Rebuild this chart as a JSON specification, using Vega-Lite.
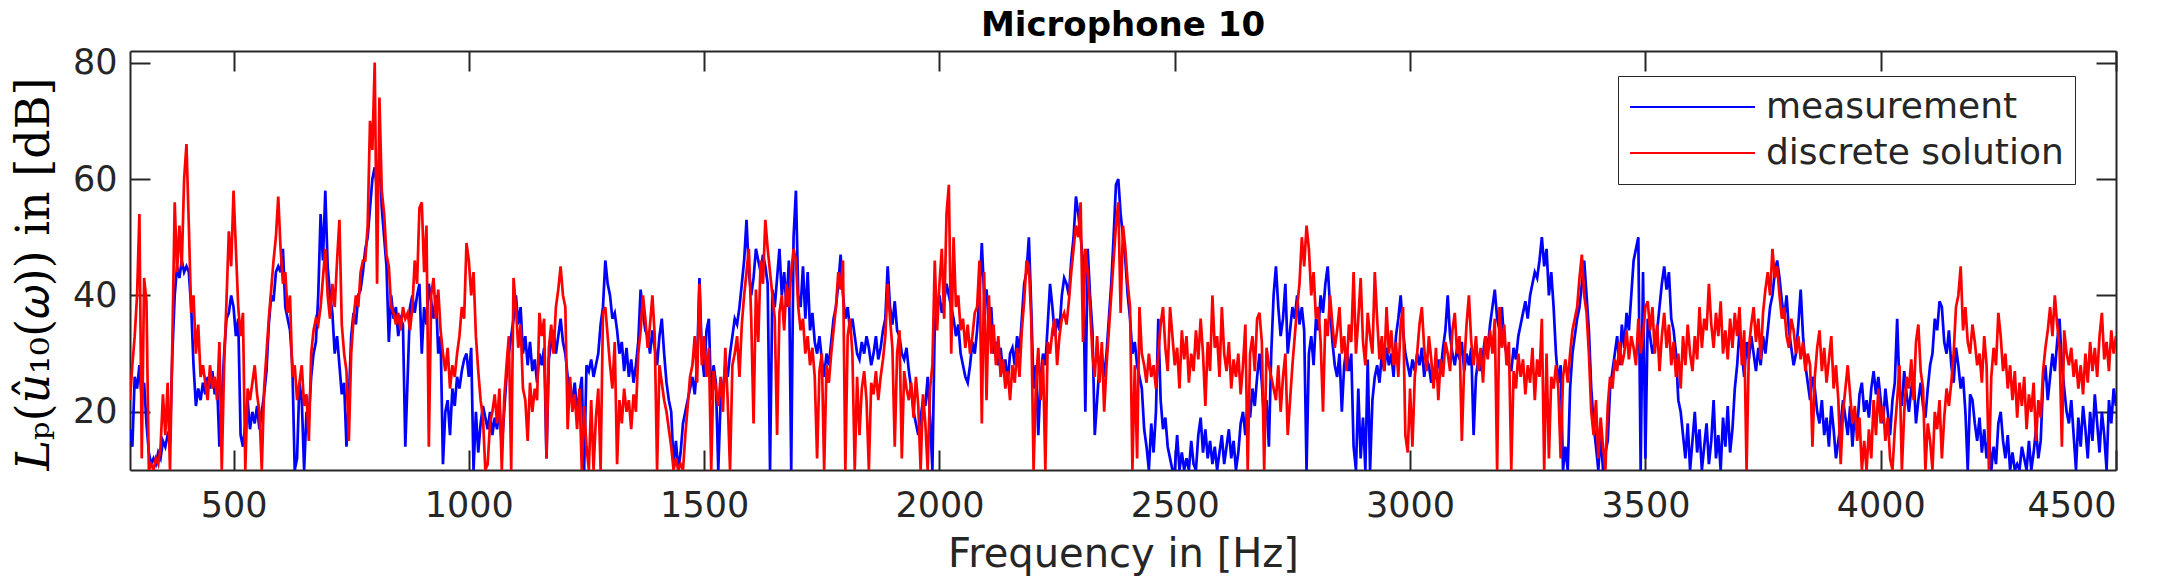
{
  "$schema": "https://vega.github.io/schema/vega-lite/v6.json",
  "width": 1986,
  "height": 419,
  "autosize": {"type": "none"},
  "padding": {"left": 130, "top": 51, "right": 47, "bottom": 110},
  "background": "white",
  "title": {"text": "Microphone 10", "font": "DejaVu Sans", "fontSize": 34, "fontWeight": "bold", "color": "#000000", "anchor": "middle", "frame": "group", "baseline": "alphabetic", "offset": 13, "dy": 37},
  "data": {"values": [
{"f":280,"m":17,"d":22},{"f":285,"m":14,"d":28},{"f":290,"m":26,"d":33},{"f":295,"m":24,"d":40},{"f":300,"m":28,"d":54},{"f":305,"m":22,"d":12},{"f":310,"m":25,"d":43},{"f":315,"m":18,"d":39},{"f":320,"m":13,"d":10},{"f":325,"m":11,"d":11},{"f":330,"m":12,"d":10},{"f":335,"m":11,"d":12},{"f":340,"m":13,"d":11},{"f":345,"m":12,"d":14},{"f":350,"m":15,"d":23},{"f":355,"m":14,"d":16},{"f":360,"m":16,"d":25},{"f":365,"m":15,"d":10},{"f":370,"m":30,"d":32},{"f":375,"m":40,"d":56},{"f":380,"m":45,"d":44},{"f":385,"m":43,"d":52},{"f":390,"m":46,"d":45},{"f":395,"m":44,"d":60},{"f":400,"m":45,"d":66},{"f":405,"m":44,"d":52},{"f":410,"m":38,"d":37},{"f":415,"m":28,"d":40},{"f":420,"m":21,"d":30},{"f":425,"m":24,"d":35},{"f":430,"m":22,"d":26},{"f":435,"m":25,"d":28},{"f":440,"m":23,"d":25},{"f":445,"m":26,"d":22},{"f":450,"m":24,"d":28},{"f":455,"m":27,"d":24},{"f":460,"m":23,"d":26},{"f":465,"m":25,"d":22},{"f":470,"m":14,"d":32},{"f":475,"m":22,"d":10},{"f":480,"m":30,"d":28},{"f":485,"m":36,"d":39},{"f":490,"m":37,"d":51},{"f":495,"m":40,"d":45},{"f":500,"m":38,"d":58},{"f":505,"m":33,"d":48},{"f":510,"m":36,"d":38},{"f":515,"m":16,"d":33},{"f":520,"m":14,"d":37},{"f":525,"m":18,"d":10},{"f":530,"m":22,"d":24},{"f":535,"m":17,"d":22},{"f":540,"m":20,"d":25},{"f":545,"m":18,"d":28},{"f":550,"m":21,"d":23},{"f":555,"m":17,"d":20},{"f":560,"m":20,"d":10},{"f":565,"m":23,"d":24},{"f":570,"m":27,"d":30},{"f":575,"m":35,"d":36},{"f":580,"m":40,"d":41},{"f":585,"m":39,"d":46},{"f":590,"m":44,"d":50},{"f":595,"m":45,"d":57},{"f":600,"m":44,"d":48},{"f":605,"m":48,"d":42},{"f":610,"m":38,"d":44},{"f":615,"m":36,"d":37},{"f":620,"m":34,"d":40},{"f":625,"m":28,"d":26},{"f":630,"m":10,"d":28},{"f":635,"m":12,"d":22},{"f":640,"m":25,"d":25},{"f":645,"m":22,"d":28},{"f":650,"m":10,"d":21},{"f":655,"m":20,"d":23},{"f":660,"m":19,"d":15},{"f":665,"m":26,"d":30},{"f":670,"m":30,"d":34},{"f":675,"m":32,"d":36},{"f":680,"m":40,"d":35},{"f":685,"m":54,"d":38},{"f":690,"m":46,"d":43},{"f":695,"m":58,"d":48},{"f":700,"m":45,"d":40},{"f":705,"m":40,"d":36},{"f":710,"m":37,"d":42},{"f":715,"m":30,"d":38},{"f":720,"m":33,"d":46},{"f":725,"m":28,"d":53},{"f":730,"m":23,"d":35},{"f":735,"m":25,"d":30},{"f":740,"m":14,"d":27},{"f":745,"m":22,"d":15},{"f":750,"m":33,"d":30},{"f":755,"m":37,"d":36},{"f":760,"m":35,"d":40},{"f":765,"m":40,"d":38},{"f":770,"m":41,"d":44},{"f":775,"m":44,"d":46},{"f":780,"m":48,"d":46},{"f":785,"m":50,"d":52},{"f":790,"m":55,"d":70},{"f":795,"m":60,"d":65},{"f":800,"m":62,"d":80},{"f":805,"m":58,"d":42},{"f":810,"m":64,"d":74},{"f":815,"m":55,"d":58},{"f":820,"m":50,"d":54},{"f":825,"m":45,"d":47},{"f":830,"m":32,"d":45},{"f":835,"m":40,"d":38},{"f":840,"m":36,"d":37},{"f":845,"m":38,"d":35},{"f":850,"m":33,"d":37},{"f":855,"m":36,"d":34},{"f":860,"m":35,"d":38},{"f":865,"m":14,"d":36},{"f":870,"m":26,"d":37},{"f":875,"m":38,"d":34},
{"f":880,"m":40,"d":38},{"f":885,"m":37,"d":46},{"f":890,"m":40,"d":42},{"f":895,"m":42,"d":55},{"f":900,"m":30,"d":56},{"f":905,"m":38,"d":44},{"f":910,"m":35,"d":52},{"f":915,"m":42,"d":14},{"f":920,"m":39,"d":40},{"f":925,"m":36,"d":43},{"f":930,"m":40,"d":36},{"f":935,"m":30,"d":41},{"f":940,"m":33,"d":34},{"f":945,"m":11,"d":30},{"f":950,"m":20,"d":27},{"f":955,"m":22,"d":31},{"f":960,"m":16,"d":24},{"f":965,"m":24,"d":28},{"f":970,"m":21,"d":26},{"f":975,"m":26,"d":30},{"f":980,"m":24,"d":33},{"f":985,"m":27,"d":38},{"f":990,"m":29,"d":36},{"f":995,"m":30,"d":49},{"f":1000,"m":26,"d":46},{"f":1005,"m":31,"d":40},{"f":1010,"m":10,"d":44},{"f":1015,"m":20,"d":33},{"f":1020,"m":13,"d":27},{"f":1025,"m":18,"d":22},{"f":1030,"m":21,"d":19},{"f":1035,"m":19,"d":10},{"f":1040,"m":17,"d":11},{"f":1045,"m":20,"d":18},{"f":1050,"m":16,"d":20},{"f":1055,"m":19,"d":23},{"f":1060,"m":17,"d":18},{"f":1065,"m":21,"d":24},{"f":1070,"m":14,"d":10},{"f":1075,"m":20,"d":22},{"f":1080,"m":26,"d":28},{"f":1085,"m":30,"d":33},{"f":1090,"m":33,"d":10},{"f":1095,"m":36,"d":43},{"f":1100,"m":40,"d":38},{"f":1105,"m":35,"d":31},{"f":1110,"m":38,"d":35},{"f":1115,"m":30,"d":24},{"f":1120,"m":33,"d":22},{"f":1125,"m":28,"d":15},{"f":1130,"m":32,"d":25},{"f":1135,"m":27,"d":20},{"f":1140,"m":29,"d":24},{"f":1145,"m":25,"d":22},{"f":1150,"m":30,"d":37},{"f":1155,"m":28,"d":33},{"f":1160,"m":31,"d":36},{"f":1165,"m":12,"d":12},{"f":1170,"m":29,"d":31},{"f":1175,"m":32,"d":35},{"f":1180,"m":34,"d":30},{"f":1185,"m":30,"d":38},{"f":1190,"m":33,"d":41},{"f":1195,"m":36,"d":45},{"f":1200,"m":32,"d":40},{"f":1205,"m":30,"d":38},{"f":1210,"m":26,"d":17},{"f":1215,"m":24,"d":26},{"f":1220,"m":22,"d":20},{"f":1225,"m":25,"d":23},{"f":1230,"m":20,"d":17},{"f":1235,"m":23,"d":24},{"f":1240,"m":26,"d":10},{"f":1245,"m":10,"d":21},{"f":1250,"m":28,"d":14},{"f":1255,"m":27,"d":10},{"f":1260,"m":29,"d":22},{"f":1265,"m":26,"d":10},{"f":1270,"m":28,"d":19},{"f":1275,"m":30,"d":24},{"f":1280,"m":35,"d":10},{"f":1285,"m":38,"d":37},{"f":1290,"m":46,"d":38},{"f":1295,"m":42,"d":33},{"f":1300,"m":40,"d":28},{"f":1305,"m":36,"d":24},{"f":1310,"m":37,"d":32},{"f":1315,"m":34,"d":11},{"f":1320,"m":30,"d":22},{"f":1325,"m":32,"d":18},{"f":1330,"m":27,"d":24},{"f":1335,"m":31,"d":20},{"f":1340,"m":26,"d":22},{"f":1345,"m":29,"d":17},{"f":1350,"m":25,"d":23},{"f":1355,"m":28,"d":20},{"f":1360,"m":32,"d":30},{"f":1365,"m":41,"d":34},{"f":1370,"m":37,"d":40},{"f":1375,"m":34,"d":36},{"f":1380,"m":33,"d":31},{"f":1385,"m":30,"d":35},{"f":1390,"m":34,"d":40},{"f":1395,"m":31,"d":33},{"f":1400,"m":28,"d":10},{"f":1405,"m":33,"d":28},{"f":1410,"m":36,"d":25},{"f":1415,"m":30,"d":22},{"f":1420,"m":25,"d":20},{"f":1425,"m":22,"d":17},{"f":1430,"m":20,"d":14},{"f":1435,"m":11,"d":10},{"f":1440,"m":15,"d":12},{"f":1445,"m":10,"d":10},{"f":1450,"m":13,"d":11},{"f":1455,"m":18,"d":10},{"f":1460,"m":20,"d":16},{"f":1465,"m":22,"d":21},{"f":1470,"m":24,"d":26},{"f":1475,"m":26,"d":28},{"f":1480,"m":23,"d":33},{"f":1485,"m":28,"d":25},
{"f":1490,"m":43,"d":42},{"f":1495,"m":30,"d":28},{"f":1500,"m":26,"d":33},{"f":1505,"m":34,"d":26},{"f":1510,"m":36,"d":31},{"f":1515,"m":22,"d":10},{"f":1520,"m":28,"d":27},{"f":1525,"m":25,"d":24},{"f":1530,"m":10,"d":21},{"f":1535,"m":22,"d":26},{"f":1540,"m":24,"d":20},{"f":1545,"m":28,"d":31},{"f":1550,"m":26,"d":22},{"f":1555,"m":30,"d":10},{"f":1560,"m":33,"d":28},{"f":1565,"m":36,"d":30},{"f":1570,"m":35,"d":33},{"f":1575,"m":38,"d":26},{"f":1580,"m":42,"d":35},{"f":1585,"m":46,"d":40},{"f":1590,"m":53,"d":44},{"f":1595,"m":44,"d":48},{"f":1600,"m":40,"d":36},{"f":1605,"m":43,"d":18},{"f":1610,"m":48,"d":41},{"f":1615,"m":46,"d":32},{"f":1620,"m":44,"d":46},{"f":1625,"m":47,"d":42},{"f":1630,"m":45,"d":53},{"f":1635,"m":42,"d":48},{"f":1640,"m":10,"d":44},{"f":1645,"m":41,"d":40},{"f":1650,"m":38,"d":36},{"f":1655,"m":43,"d":16},{"f":1660,"m":48,"d":37},{"f":1665,"m":40,"d":40},{"f":1670,"m":44,"d":34},{"f":1675,"m":38,"d":42},{"f":1680,"m":46,"d":38},{"f":1685,"m":10,"d":44},{"f":1690,"m":50,"d":48},{"f":1695,"m":58,"d":46},{"f":1700,"m":40,"d":38},{"f":1705,"m":38,"d":34},{"f":1710,"m":45,"d":36},{"f":1715,"m":36,"d":30},{"f":1720,"m":44,"d":33},{"f":1725,"m":34,"d":28},{"f":1730,"m":37,"d":31},{"f":1735,"m":32,"d":26},{"f":1740,"m":30,"d":12},{"f":1745,"m":33,"d":27},{"f":1750,"m":29,"d":30},{"f":1755,"m":26,"d":10},{"f":1760,"m":30,"d":28},{"f":1765,"m":28,"d":25},{"f":1770,"m":32,"d":30},{"f":1775,"m":36,"d":34},{"f":1780,"m":38,"d":38},{"f":1785,"m":42,"d":44},{"f":1790,"m":47,"d":41},{"f":1795,"m":40,"d":46},{"f":1800,"m":36,"d":10},{"f":1805,"m":38,"d":33},{"f":1810,"m":34,"d":36},{"f":1815,"m":36,"d":30},{"f":1820,"m":33,"d":10},{"f":1825,"m":30,"d":26},{"f":1830,"m":29,"d":16},{"f":1835,"m":32,"d":24},{"f":1840,"m":30,"d":27},{"f":1845,"m":33,"d":22},{"f":1850,"m":31,"d":10},{"f":1855,"m":28,"d":25},{"f":1860,"m":30,"d":23},{"f":1865,"m":33,"d":27},{"f":1870,"m":29,"d":22},{"f":1875,"m":31,"d":26},{"f":1880,"m":34,"d":29},{"f":1885,"m":36,"d":33},{"f":1890,"m":45,"d":42},{"f":1895,"m":38,"d":36},{"f":1900,"m":35,"d":31},{"f":1905,"m":39,"d":14},{"f":1910,"m":34,"d":30},{"f":1915,"m":33,"d":34},{"f":1920,"m":30,"d":12},{"f":1925,"m":29,"d":27},{"f":1930,"m":31,"d":24},{"f":1935,"m":27,"d":22},{"f":1940,"m":24,"d":25},{"f":1945,"m":20,"d":19},{"f":1950,"m":18,"d":26},{"f":1955,"m":16,"d":21},{"f":1960,"m":19,"d":10},{"f":1965,"m":22,"d":23},{"f":1970,"m":21,"d":18},{"f":1975,"m":26,"d":10},{"f":1980,"m":19,"d":24},{"f":1985,"m":10,"d":28},{"f":1990,"m":35,"d":46},{"f":1995,"m":38,"d":34},{"f":2000,"m":40,"d":42},{"f":2005,"m":37,"d":48},{"f":2010,"m":39,"d":36},{"f":2015,"m":42,"d":54},{"f":2020,"m":40,"d":59},{"f":2025,"m":38,"d":30},{"f":2030,"m":36,"d":50},{"f":2035,"m":33,"d":38},{"f":2040,"m":35,"d":40},{"f":2045,"m":30,"d":34},{"f":2050,"m":28,"d":36},{"f":2055,"m":26,"d":31},{"f":2060,"m":25,"d":35},{"f":2065,"m":28,"d":30},{"f":2070,"m":32,"d":33},{"f":2075,"m":30,"d":37},{"f":2080,"m":34,"d":38},{"f":2085,"m":40,"d":46},{"f":2090,"m":49,"d":18},
{"f":2095,"m":40,"d":44},{"f":2100,"m":41,"d":22},{"f":2105,"m":35,"d":40},{"f":2110,"m":38,"d":30},{"f":2115,"m":30,"d":35},{"f":2120,"m":32,"d":28},{"f":2125,"m":28,"d":33},{"f":2130,"m":31,"d":26},{"f":2135,"m":27,"d":29},{"f":2140,"m":29,"d":24},{"f":2145,"m":25,"d":27},{"f":2150,"m":30,"d":22},{"f":2155,"m":31,"d":28},{"f":2160,"m":28,"d":25},{"f":2165,"m":33,"d":31},{"f":2170,"m":30,"d":26},{"f":2175,"m":36,"d":34},{"f":2180,"m":42,"d":39},{"f":2185,"m":44,"d":46},{"f":2190,"m":50,"d":45},{"f":2195,"m":38,"d":36},{"f":2200,"m":24,"d":10},{"f":2205,"m":28,"d":25},{"f":2210,"m":16,"d":31},{"f":2215,"m":26,"d":22},{"f":2220,"m":30,"d":29},{"f":2225,"m":28,"d":10},{"f":2230,"m":35,"d":32},{"f":2235,"m":42,"d":30},{"f":2240,"m":38,"d":34},{"f":2245,"m":33,"d":36},{"f":2250,"m":36,"d":28},{"f":2255,"m":34,"d":33},{"f":2260,"m":40,"d":36},{"f":2265,"m":43,"d":37},{"f":2270,"m":42,"d":35},{"f":2275,"m":40,"d":39},{"f":2280,"m":46,"d":44},{"f":2285,"m":50,"d":48},{"f":2290,"m":57,"d":52},{"f":2295,"m":54,"d":50},{"f":2300,"m":50,"d":56},{"f":2305,"m":46,"d":32},{"f":2310,"m":20,"d":48},{"f":2315,"m":48,"d":44},{"f":2320,"m":40,"d":38},{"f":2325,"m":34,"d":30},{"f":2330,"m":16,"d":26},{"f":2335,"m":22,"d":33},{"f":2340,"m":28,"d":25},{"f":2345,"m":30,"d":32},{"f":2350,"m":26,"d":20},{"f":2355,"m":30,"d":28},{"f":2360,"m":36,"d":34},{"f":2365,"m":42,"d":40},{"f":2370,"m":50,"d":46},{"f":2375,"m":59,"d":52},{"f":2380,"m":60,"d":56},{"f":2385,"m":54,"d":37},{"f":2390,"m":50,"d":52},{"f":2395,"m":46,"d":48},{"f":2400,"m":40,"d":42},{"f":2405,"m":36,"d":38},{"f":2410,"m":30,"d":10},{"f":2415,"m":32,"d":28},{"f":2420,"m":28,"d":12},{"f":2425,"m":26,"d":38},{"f":2430,"m":24,"d":30},{"f":2435,"m":17,"d":28},{"f":2440,"m":14,"d":25},{"f":2445,"m":10,"d":30},{"f":2450,"m":18,"d":26},{"f":2455,"m":13,"d":28},{"f":2460,"m":20,"d":24},{"f":2465,"m":36,"d":30},{"f":2470,"m":22,"d":35},{"f":2475,"m":17,"d":38},{"f":2480,"m":19,"d":31},{"f":2485,"m":14,"d":27},{"f":2490,"m":12,"d":38},{"f":2495,"m":10,"d":33},{"f":2500,"m":10,"d":28},{"f":2505,"m":16,"d":31},{"f":2510,"m":10,"d":24},{"f":2515,"m":13,"d":34},{"f":2520,"m":10,"d":29},{"f":2525,"m":12,"d":33},{"f":2530,"m":10,"d":25},{"f":2535,"m":15,"d":30},{"f":2540,"m":11,"d":27},{"f":2545,"m":10,"d":34},{"f":2550,"m":16,"d":29},{"f":2555,"m":19,"d":36},{"f":2560,"m":13,"d":30},{"f":2565,"m":17,"d":21},{"f":2570,"m":12,"d":32},{"f":2575,"m":15,"d":27},{"f":2580,"m":11,"d":40},{"f":2585,"m":14,"d":31},{"f":2590,"m":10,"d":33},{"f":2595,"m":13,"d":26},{"f":2600,"m":16,"d":38},{"f":2605,"m":11,"d":30},{"f":2610,"m":14,"d":27},{"f":2615,"m":17,"d":32},{"f":2620,"m":12,"d":24},{"f":2625,"m":15,"d":29},{"f":2630,"m":10,"d":26},{"f":2635,"m":13,"d":30},{"f":2640,"m":18,"d":23},{"f":2645,"m":20,"d":28},{"f":2650,"m":16,"d":35},{"f":2655,"m":22,"d":10},{"f":2660,"m":19,"d":30},{"f":2665,"m":24,"d":33},{"f":2670,"m":21,"d":27},{"f":2675,"m":26,"d":36},{"f":2680,"m":30,"d":37},{"f":2685,"m":25,"d":32},{"f":2690,"m":18,"d":10},{"f":2695,"m":22,"d":31},{"f":2700,"m":14,"d":28},
{"f":2705,"m":30,"d":26},{"f":2710,"m":40,"d":24},{"f":2715,"m":45,"d":22},{"f":2720,"m":38,"d":28},{"f":2725,"m":33,"d":20},{"f":2730,"m":36,"d":26},{"f":2735,"m":42,"d":30},{"f":2740,"m":30,"d":16},{"f":2745,"m":34,"d":22},{"f":2750,"m":38,"d":28},{"f":2755,"m":36,"d":33},{"f":2760,"m":40,"d":38},{"f":2765,"m":35,"d":42},{"f":2770,"m":38,"d":50},{"f":2775,"m":34,"d":45},{"f":2780,"m":10,"d":52},{"f":2785,"m":30,"d":48},{"f":2790,"m":33,"d":40},{"f":2795,"m":28,"d":44},{"f":2800,"m":36,"d":36},{"f":2805,"m":34,"d":38},{"f":2810,"m":40,"d":32},{"f":2815,"m":37,"d":20},{"f":2820,"m":42,"d":36},{"f":2825,"m":45,"d":33},{"f":2830,"m":38,"d":40},{"f":2835,"m":32,"d":35},{"f":2840,"m":28,"d":31},{"f":2845,"m":26,"d":34},{"f":2850,"m":30,"d":38},{"f":2855,"m":20,"d":30},{"f":2860,"m":28,"d":33},{"f":2865,"m":31,"d":27},{"f":2870,"m":27,"d":35},{"f":2875,"m":30,"d":32},{"f":2880,"m":14,"d":44},{"f":2885,"m":10,"d":30},{"f":2890,"m":24,"d":36},{"f":2895,"m":12,"d":43},{"f":2900,"m":19,"d":32},{"f":2905,"m":10,"d":28},{"f":2910,"m":29,"d":37},{"f":2915,"m":10,"d":33},{"f":2920,"m":22,"d":30},{"f":2925,"m":26,"d":44},{"f":2930,"m":28,"d":36},{"f":2935,"m":25,"d":29},{"f":2940,"m":30,"d":33},{"f":2945,"m":27,"d":27},{"f":2950,"m":31,"d":38},{"f":2955,"m":28,"d":30},{"f":2960,"m":30,"d":34},{"f":2965,"m":26,"d":28},{"f":2970,"m":33,"d":32},{"f":2975,"m":36,"d":26},{"f":2980,"m":40,"d":35},{"f":2985,"m":34,"d":38},{"f":2990,"m":30,"d":16},{"f":2995,"m":28,"d":13},{"f":3000,"m":26,"d":24},{"f":3005,"m":29,"d":14},{"f":3010,"m":27,"d":26},{"f":3015,"m":30,"d":30},{"f":3020,"m":28,"d":35},{"f":3025,"m":31,"d":38},{"f":3030,"m":26,"d":31},{"f":3035,"m":29,"d":27},{"f":3040,"m":28,"d":33},{"f":3045,"m":25,"d":29},{"f":3050,"m":27,"d":24},{"f":3055,"m":26,"d":31},{"f":3060,"m":29,"d":22},{"f":3065,"m":27,"d":29},{"f":3070,"m":31,"d":26},{"f":3075,"m":34,"d":32},{"f":3080,"m":40,"d":30},{"f":3085,"m":33,"d":27},{"f":3090,"m":30,"d":34},{"f":3095,"m":28,"d":37},{"f":3100,"m":31,"d":30},{"f":3105,"m":29,"d":33},{"f":3110,"m":32,"d":15},{"f":3115,"m":27,"d":28},{"f":3120,"m":30,"d":35},{"f":3125,"m":28,"d":40},{"f":3130,"m":31,"d":32},{"f":3135,"m":16,"d":28},{"f":3140,"m":26,"d":33},{"f":3145,"m":29,"d":27},{"f":3150,"m":27,"d":31},{"f":3155,"m":30,"d":25},{"f":3160,"m":33,"d":33},{"f":3165,"m":31,"d":29},{"f":3170,"m":35,"d":34},{"f":3175,"m":38,"d":30},{"f":3180,"m":41,"d":36},{"f":3185,"m":36,"d":10},{"f":3190,"m":34,"d":38},{"f":3195,"m":38,"d":31},{"f":3200,"m":32,"d":35},{"f":3205,"m":30,"d":28},{"f":3210,"m":28,"d":32},{"f":3215,"m":27,"d":10},{"f":3220,"m":31,"d":27},{"f":3225,"m":29,"d":24},{"f":3230,"m":33,"d":30},{"f":3235,"m":35,"d":26},{"f":3240,"m":37,"d":29},{"f":3245,"m":39,"d":23},{"f":3250,"m":36,"d":28},{"f":3255,"m":40,"d":25},{"f":3260,"m":42,"d":31},{"f":3265,"m":44,"d":22},{"f":3270,"m":43,"d":29},{"f":3275,"m":46,"d":26},{"f":3280,"m":50,"d":36},{"f":3285,"m":45,"d":10},{"f":3290,"m":48,"d":30},{"f":3295,"m":40,"d":12},{"f":3300,"m":44,"d":26},{"f":3305,"m":38,"d":24},
{"f":3310,"m":30,"d":28},{"f":3315,"m":25,"d":24},{"f":3320,"m":28,"d":12},{"f":3325,"m":10,"d":26},{"f":3330,"m":14,"d":29},{"f":3335,"m":10,"d":25},{"f":3340,"m":24,"d":30},{"f":3345,"m":30,"d":34},{"f":3350,"m":33,"d":36},{"f":3355,"m":36,"d":38},{"f":3360,"m":38,"d":43},{"f":3365,"m":42,"d":47},{"f":3370,"m":46,"d":40},{"f":3375,"m":40,"d":37},{"f":3380,"m":34,"d":30},{"f":3385,"m":24,"d":20},{"f":3390,"m":18,"d":16},{"f":3395,"m":14,"d":22},{"f":3400,"m":10,"d":12},{"f":3405,"m":16,"d":19},{"f":3410,"m":10,"d":14},{"f":3415,"m":13,"d":10},{"f":3420,"m":15,"d":21},{"f":3425,"m":24,"d":26},{"f":3430,"m":27,"d":24},{"f":3435,"m":30,"d":29},{"f":3440,"m":33,"d":27},{"f":3445,"m":28,"d":32},{"f":3450,"m":35,"d":28},{"f":3455,"m":31,"d":30},{"f":3460,"m":37,"d":34},{"f":3465,"m":34,"d":29},{"f":3470,"m":40,"d":33},{"f":3475,"m":46,"d":31},{"f":3480,"m":48,"d":28},{"f":3485,"m":50,"d":36},{"f":3490,"m":10,"d":30},{"f":3495,"m":44,"d":33},{"f":3500,"m":12,"d":38},{"f":3505,"m":36,"d":39},{"f":3510,"m":33,"d":34},{"f":3515,"m":30,"d":38},{"f":3520,"m":32,"d":30},{"f":3525,"m":34,"d":35},{"f":3530,"m":38,"d":27},{"f":3535,"m":42,"d":33},{"f":3540,"m":45,"d":37},{"f":3545,"m":41,"d":31},{"f":3550,"m":44,"d":35},{"f":3555,"m":36,"d":28},{"f":3560,"m":34,"d":32},{"f":3565,"m":30,"d":26},{"f":3570,"m":22,"d":30},{"f":3575,"m":20,"d":24},{"f":3580,"m":16,"d":33},{"f":3585,"m":12,"d":28},{"f":3590,"m":18,"d":35},{"f":3595,"m":10,"d":30},{"f":3600,"m":15,"d":27},{"f":3605,"m":20,"d":33},{"f":3610,"m":13,"d":29},{"f":3615,"m":17,"d":38},{"f":3620,"m":10,"d":31},{"f":3625,"m":14,"d":36},{"f":3630,"m":18,"d":34},{"f":3635,"m":11,"d":42},{"f":3640,"m":15,"d":35},{"f":3645,"m":22,"d":31},{"f":3650,"m":12,"d":37},{"f":3655,"m":16,"d":33},{"f":3660,"m":10,"d":39},{"f":3665,"m":19,"d":30},{"f":3670,"m":14,"d":34},{"f":3675,"m":21,"d":29},{"f":3680,"m":13,"d":36},{"f":3685,"m":17,"d":31},{"f":3690,"m":24,"d":37},{"f":3695,"m":28,"d":33},{"f":3700,"m":34,"d":38},{"f":3705,"m":30,"d":28},{"f":3710,"m":26,"d":34},{"f":3715,"m":32,"d":10},{"f":3720,"m":29,"d":31},{"f":3725,"m":33,"d":35},{"f":3730,"m":30,"d":38},{"f":3735,"m":27,"d":32},{"f":3740,"m":31,"d":36},{"f":3745,"m":28,"d":29},{"f":3750,"m":33,"d":37},{"f":3755,"m":30,"d":41},{"f":3760,"m":34,"d":44},{"f":3765,"m":38,"d":40},{"f":3770,"m":40,"d":48},{"f":3775,"m":44,"d":43},{"f":3780,"m":46,"d":45},{"f":3785,"m":43,"d":40},{"f":3790,"m":39,"d":36},{"f":3795,"m":36,"d":38},{"f":3800,"m":40,"d":33},{"f":3805,"m":34,"d":31},{"f":3810,"m":31,"d":36},{"f":3815,"m":28,"d":34},{"f":3820,"m":30,"d":30},{"f":3825,"m":35,"d":33},{"f":3830,"m":41,"d":29},{"f":3835,"m":33,"d":32},{"f":3840,"m":28,"d":27},{"f":3845,"m":25,"d":30},{"f":3850,"m":22,"d":28},{"f":3855,"m":26,"d":14},{"f":3860,"m":24,"d":26},{"f":3865,"m":20,"d":31},{"f":3870,"m":18,"d":34},{"f":3875,"m":22,"d":27},{"f":3880,"m":16,"d":31},{"f":3885,"m":19,"d":25},{"f":3890,"m":14,"d":29},{"f":3895,"m":21,"d":33},{"f":3900,"m":17,"d":24},{"f":3905,"m":12,"d":28},{"f":3910,"m":15,"d":22},{"f":3915,"m":18,"d":11},
{"f":3920,"m":22,"d":20},{"f":3925,"m":19,"d":24},{"f":3930,"m":16,"d":28},{"f":3935,"m":21,"d":23},{"f":3940,"m":14,"d":18},{"f":3945,"m":20,"d":21},{"f":3950,"m":17,"d":15},{"f":3955,"m":23,"d":19},{"f":3960,"m":25,"d":10},{"f":3965,"m":20,"d":15},{"f":3970,"m":22,"d":10},{"f":3975,"m":19,"d":17},{"f":3980,"m":24,"d":12},{"f":3985,"m":27,"d":22},{"f":3990,"m":23,"d":16},{"f":3995,"m":26,"d":24},{"f":4000,"m":22,"d":18},{"f":4005,"m":18,"d":21},{"f":4010,"m":24,"d":15},{"f":4015,"m":20,"d":19},{"f":4020,"m":16,"d":12},{"f":4025,"m":22,"d":10},{"f":4030,"m":25,"d":17},{"f":4035,"m":36,"d":22},{"f":4040,"m":24,"d":28},{"f":4045,"m":21,"d":10},{"f":4050,"m":27,"d":20},{"f":4055,"m":23,"d":26},{"f":4060,"m":20,"d":24},{"f":4065,"m":24,"d":29},{"f":4070,"m":26,"d":22},{"f":4075,"m":18,"d":32},{"f":4080,"m":22,"d":35},{"f":4085,"m":25,"d":27},{"f":4090,"m":21,"d":24},{"f":4095,"m":19,"d":10},{"f":4100,"m":24,"d":18},{"f":4105,"m":28,"d":15},{"f":4110,"m":30,"d":10},{"f":4115,"m":36,"d":20},{"f":4120,"m":34,"d":17},{"f":4125,"m":39,"d":22},{"f":4130,"m":38,"d":12},{"f":4135,"m":32,"d":19},{"f":4140,"m":30,"d":24},{"f":4145,"m":34,"d":21},{"f":4150,"m":28,"d":25},{"f":4155,"m":25,"d":30},{"f":4160,"m":31,"d":38},{"f":4165,"m":28,"d":40},{"f":4170,"m":24,"d":45},{"f":4175,"m":26,"d":34},{"f":4180,"m":20,"d":38},{"f":4185,"m":10,"d":32},{"f":4190,"m":23,"d":30},{"f":4195,"m":22,"d":35},{"f":4200,"m":18,"d":32},{"f":4205,"m":15,"d":28},{"f":4210,"m":19,"d":30},{"f":4215,"m":13,"d":25},{"f":4220,"m":17,"d":33},{"f":4225,"m":12,"d":28},{"f":4230,"m":16,"d":10},{"f":4235,"m":10,"d":26},{"f":4240,"m":14,"d":31},{"f":4245,"m":11,"d":28},{"f":4250,"m":18,"d":37},{"f":4255,"m":20,"d":33},{"f":4260,"m":15,"d":27},{"f":4265,"m":12,"d":30},{"f":4270,"m":16,"d":24},{"f":4275,"m":10,"d":28},{"f":4280,"m":13,"d":22},{"f":4285,"m":10,"d":27},{"f":4290,"m":11,"d":19},{"f":4295,"m":10,"d":25},{"f":4300,"m":14,"d":21},{"f":4305,"m":12,"d":26},{"f":4310,"m":10,"d":17},{"f":4315,"m":15,"d":23},{"f":4320,"m":10,"d":20},{"f":4325,"m":13,"d":25},{"f":4330,"m":17,"d":15},{"f":4335,"m":12,"d":22},{"f":4340,"m":15,"d":19},{"f":4345,"m":25,"d":27},{"f":4350,"m":28,"d":31},{"f":4355,"m":22,"d":34},{"f":4360,"m":26,"d":38},{"f":4365,"m":30,"d":33},{"f":4370,"m":27,"d":40},{"f":4375,"m":32,"d":35},{"f":4380,"m":36,"d":31},{"f":4385,"m":28,"d":14},{"f":4390,"m":24,"d":34},{"f":4395,"m":20,"d":30},{"f":4400,"m":18,"d":28},{"f":4405,"m":22,"d":31},{"f":4410,"m":16,"d":26},{"f":4415,"m":10,"d":29},{"f":4420,"m":19,"d":24},{"f":4425,"m":14,"d":28},{"f":4430,"m":21,"d":23},{"f":4435,"m":17,"d":30},{"f":4440,"m":12,"d":25},{"f":4445,"m":20,"d":32},{"f":4450,"m":15,"d":27},{"f":4455,"m":23,"d":31},{"f":4460,"m":18,"d":26},{"f":4465,"m":13,"d":33},{"f":4470,"m":20,"d":37},{"f":4475,"m":16,"d":29},{"f":4480,"m":10,"d":32},{"f":4485,"m":22,"d":27},{"f":4490,"m":18,"d":34},{"f":4495,"m":24,"d":30},{"f":4500,"m":21,"d":33}
  ]},
  "transform": [{"fold": ["m", "d"], "as": ["s", "v"]}],
  "layer": [
    {
      "mark": {"type": "line", "strokeWidth": 2.7, "clip": true, "interpolate": "linear"},
      "encoding": {
        "x": {"field": "f", "type": "quantitative", "scale": {"domain": [280, 4500], "nice": false, "zero": false},
              "axis": {"orient": "bottom", "title": "Frequency in [Hz]", "values": [500, 1000, 1500, 2000, 2500, 3000, 3500, 4000, 4500], "format": "d", "tickSize": -20, "labelPadding": 38, "titlePadding": 11}},
        "y": {"field": "v", "type": "quantitative", "scale": {"domain": [10, 82], "nice": false, "zero": false},
              "axis": {"orient": "left", "title": "𝐿ₚ(𝑢̂₁₀(𝜔)) in [dB]", "titleFont": "DejaVu Serif", "titleFontSize": 46, "titleColor": "#000000", "titleAnchor": "start", "values": [20, 40, 60, 80], "format": "d", "tickSize": -20, "labelPadding": 33, "titlePadding": 14}},
        "color": {"field": "s", "type": "nominal",
                  "scale": {"domain": ["m", "d"], "range": ["#0000ff", "#ff0000"]},
                  "legend": {"orient": "none", "legendX": 1488, "legendY": 25, "title": null,
                             "labelExpr": "datum.value == 'm' ? 'measurement' : 'discrete solution'",
                             "symbolType": "stroke", "symbolSize": 15625, "symbolStrokeWidth": 2, "clipHeight": 40,
                             "labelFont": "DejaVu Sans", "labelFontSize": 36, "labelColor": "#262626", "labelLimit": 600, "labelOffset": 10,
                             "rowPadding": 6, "padding": 11, "strokeColor": "#262626", "fillColor": "#ffffff", "cornerRadius": 0}}
      }
    },
    {
      "mark": {"type": "line", "strokeOpacity": 0},
      "encoding": {
        "x": {"field": "f", "type": "quantitative", "axis": {"orient": "top", "title": null, "labels": false, "values": [500, 1000, 1500, 2000, 2500, 3000, 3500, 4000, 4500], "tickSize": -20}},
        "y": {"field": "v", "type": "quantitative", "axis": {"orient": "right", "title": null, "labels": false, "values": [20, 40, 60, 80], "tickSize": -20}}
      }
    }
  ],
  "resolve": {"axis": {"x": "independent", "y": "independent"}},
  "config": {
    "view": {"stroke": null},
    "axis": {"grid": false, "domainColor": "#262626", "domainWidth": 2, "tickColor": "#262626", "tickWidth": 2,
             "labelFont": "DejaVu Sans", "labelFontSize": 35, "labelColor": "#262626",
             "titleFont": "DejaVu Sans", "titleFontSize": 40, "titleColor": "#262626", "titleFontWeight": "normal"}
  }
}
